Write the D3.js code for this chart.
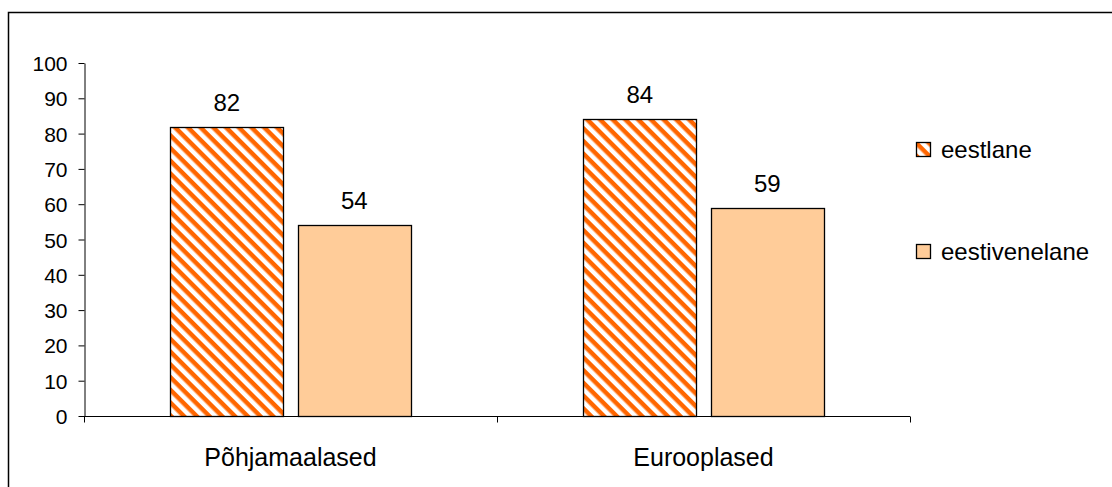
<!DOCTYPE html>
<html><head><meta charset="utf-8">
<script src="https://cdn.jsdelivr.net/npm/d3@7"></script>
<style>html,body{margin:0;padding:0;background:#fff;}svg{display:block;font-family:"Liberation Sans",Arial,sans-serif;}</style>
</head><body>
<svg id="c" width="1112" height="487"></svg>
<script>
const categories = ["Põhjamaalased", "Eurooplased"];
const seriesNames = ["eestlane", "eestivenelane"];
const eestlane = [82, 84];
const eestivenelane = [54, 59];
const yTicks = [0,10,20,30,40,50,60,70,80,90,100];

const svg = d3.select("#c");
const defs = svg.append("defs");
const pat = defs.append("pattern").attr("id","hatch").attr("patternUnits","userSpaceOnUse")
  .attr("width",9).attr("height",9).attr("patternTransform","rotate(45)");
pat.append("rect").attr("width",9).attr("height",9).attr("fill","#fff");
pat.append("rect").attr("x",0).attr("y",0).attr("width",9).attr("height",4.5).attr("fill","#FF6600");

// outer border
svg.append("path").attr("d","M8.5,487 V12.5 H1112").attr("fill","none").attr("stroke","#000").attr("stroke-width",1.5);

const x0 = d3.scaleBand().domain(categories).range([84,910]).paddingInner(0).paddingOuter(0);
const x1 = d3.scaleBand().domain(seriesNames).range([86, x0.bandwidth()-86]).paddingInner(0.11);
const y = d3.scaleLinear().domain([0,100]).range([416,63]);

const data = [eestlane, eestivenelane];
const fills = ["url(#hatch)", "#FFCC99"];

const yAxis = d3.axisLeft(y).tickValues(yTicks).tickSize(6).tickSizeOuter(0);
const gy = svg.append("g").attr("transform","translate(84.5,0)").call(yAxis);
gy.attr("font-size",null).attr("font-family",null);
gy.select(".domain").attr("stroke","#000");
gy.selectAll("line").attr("stroke","#000");
gy.selectAll("text").style("font-size","21px").attr("fill","#000").attr("x",-17).attr("dy","0.36em");

// x axis
const gx = svg.append("g").attr("transform","translate(0,416.5)");
gx.append("line").attr("x1",84).attr("x2",910).attr("stroke","#000");
const xt = [x0.range()[0], ...categories.slice(1).map(c=>x0(c)), x0.range()[1]];
gx.selectAll("line.t").data(xt).enter().append("line").attr("class","t")
  .attr("x1",d=>Math.round(d)+0.5).attr("x2",d=>Math.round(d)+0.5).attr("y1",0).attr("y2",6).attr("stroke","#000");
gx.selectAll("text").data(categories).enter().append("text")
  .attr("x",d=>x0(d)+x0.bandwidth()/2).attr("y",49).attr("text-anchor","middle")
  .style("font-size","25px").text(d=>d);

seriesNames.forEach((s,si)=>{
  const g = svg.append("g");
  categories.forEach((c,ci)=>{
    const v = data[si][ci];
    const bx = x0(c)+x1(s);
    g.append("rect").attr("x",Math.round(bx)+0.5).attr("y",Math.round(y(v))+0.5)
      .attr("width",Math.round(x1.bandwidth())).attr("height",Math.round(y(0)-y(v)))
      .attr("fill",fills[si]).attr("stroke","#000").attr("stroke-width",1.3);
    g.append("text").attr("x",bx+x1.bandwidth()/2).attr("y",y(v)-16).attr("text-anchor","middle")
      .style("font-size","24px").text(v);
  });
});

// legend
const legY = [158, 260];
seriesNames.forEach((s,i)=>{
  svg.append("rect").attr("x",916.5).attr("y",legY[i]-15.5).attr("width",14).attr("height",14)
    .attr("fill",fills[i]).attr("stroke","#000").attr("stroke-width",1.3);
  svg.append("text").attr("x",941).attr("y",legY[i]).style("font-size","24px").text(s);
});
</script>
</body></html>
